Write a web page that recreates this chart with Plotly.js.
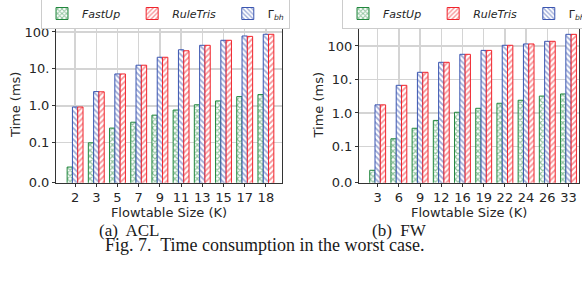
<!DOCTYPE html>
<html>
<head>
<meta charset="utf-8">
<script src="https://cdn.plot.ly/plotly-3.0.1.min.js"></script>
<style>html,body{margin:0;padding:0;background:#fff;overflow:hidden;}#chart{width:582px;height:281px;}</style>
</head>
<body>
<div id="chart"></div>
<script>
// ---- data ----
const aclSizes = ['2','3','5','7','9','11','13','15','17','18'];
const aclFastUp = [0.022, 0.10, 0.25, 0.36, 0.56, 0.77, 1.07, 1.36, 1.78, 2.02];
const aclRuleTris = [0.93, 2.4, 7.3, 12.6, 20.7, 31, 43.6, 59.6, 76, 86.6];
const aclGamma = [0.93, 2.43, 7.3, 12.6, 20.7, 33, 43.6, 59.6, 78, 86.6];

const fwSizes = ['3','6','9','12','16','19','22','24','26','33'];
const fwFastUp = [0.0195, 0.17, 0.35, 0.6, 1.05, 1.38, 1.95, 2.4, 3.2, 3.7];
const fwRuleTris = [1.75, 6.7, 16.4, 32.6, 56.5, 74, 105, 115, 138, 223];
const fwGamma = [1.75, 6.7, 16.4, 32.6, 56.5, 74, 105, 115, 138, 223];

const seriesNames = ['<i>FastUp</i>\u00a0\u00a0', '<i>RuleTris</i>\u00a0\u00a0', 'Γ<sub><i>bh</i></sub>'];
const yTickVals = [Math.pow(10, -2.081), 0.1, 1, 10, 100];
const yTickText = ['0.0', '0.1', '1.0', '10.', '100'];

// ---- styles ----
const GREEN = '#21873d', RED = '#f0242c', BLUE = '#3a55b0';
function bar(x, y, name, color, shape, rank, xa, ya, leg, sol) {
  return {
    type: 'bar', x: x, y: y, name: name, xaxis: xa, yaxis: ya, legend: leg,
    legendrank: rank,
    marker: {
      color: '#ffffff',
      line: {color: color, width: 1},
      pattern: {shape: shape, fgcolor: color, bgcolor: '#ffffff', size: 4, solidity: sol, fillmode: 'overlay'}
    },
    hoverinfo: 'skip'
  };
}

const data = [
  bar(aclSizes, aclFastUp, seriesNames[0], GREEN, 'x', 1, 'x', 'y', 'legend', 0.5),
  bar(aclSizes, aclGamma, seriesNames[2], BLUE, '\\', 3, 'x', 'y', 'legend', 0.45),
  bar(aclSizes, aclRuleTris, seriesNames[1], RED, '/', 2, 'x', 'y', 'legend', 0.45),
  bar(fwSizes, fwFastUp, seriesNames[0], GREEN, 'x', 1, 'x2', 'y2', 'legend2', 0.5),
  bar(fwSizes, fwGamma, seriesNames[2], BLUE, '\\', 3, 'x2', 'y2', 'legend2', 0.45),
  bar(fwSizes, fwRuleTris, seriesNames[1], RED, '/', 2, 'x2', 'y2', 'legend2', 0.45)
];

const tickFont = {family: 'DejaVu Sans', size: 13, color: '#262626'};
const gridC = '#d4d4d4';
function xAxis(domain, anchor, range) {
  return {
    type: 'category', domain: domain, anchor: anchor, range: range,
    automargin: false, tickangle: 0,
    showgrid: true, gridcolor: gridC, gridwidth: 1.3,
    showline: true, linecolor: '#333', linewidth: 1, mirror: true,
    ticks: 'outside', ticklen: 3, tickcolor: '#333', tickfont: tickFont,
    title: {text: 'Flowtable Size (K)', font: tickFont, standoff: 2},
    zeroline: false, fixedrange: true
  };
}
function yAxis(domain, anchor, range, standoff) {
  return {
    type: 'log', domain: domain, anchor: anchor, range: range,
    automargin: false,
    tickvals: yTickVals, ticktext: yTickText,
    showgrid: true, gridcolor: gridC, gridwidth: 1.3,
    showline: true, linecolor: '#333', linewidth: 1, mirror: true,
    ticks: 'outside', ticklen: 3, tickcolor: '#333', tickfont: tickFont,
    title: {text: 'Time (ms)', font: tickFont, standoff: standoff},
    zeroline: false, fixedrange: true
  };
}

const legendBase = {
  orientation: 'h', yanchor: 'top', y: 1 + 2/281, xanchor: 'left',
  bgcolor: '#ffffff', bordercolor: '#cccccc', borderwidth: 1,
  font: {family: 'DejaVu Sans', size: 11, color: '#262626'},
  traceorder: 'normal',
  itemclick: false, itemdoubleclick: false
};

const subCapFont = {family: 'Liberation Serif', size: 17, color: '#1a1a1a'};
const figCapFont = {family: 'Liberation Serif', size: 18, color: '#1a1a1a'};
const layout = {
  width: 582, height: 281,
  margin: {l: 0, r: 0, t: 0, b: 0, autoexpand: false},
  paper_bgcolor: '#ffffff', plot_bgcolor: '#ffffff',
  barmode: 'group', bargap: 0.25, bargroupgap: 0,
  showlegend: true,
  xaxis: xAxis([56/582, 282/582], 'y', [-0.9, 9.76]),
  yaxis: yAxis([1 - 182.7/281, 1 - 26/281], 'x', [-2.081, 2.162], 1),
  xaxis2: xAxis([359/582, 579.3/582], 'y2', [-0.88, 9.51]),
  yaxis2: yAxis([1 - 182.7/281, 1 - 26.7/281], 'x2', [-2.081, 2.576], 1),
  legend: Object.assign({}, legendBase, {x: 41/582}),
  legend2: Object.assign({}, legendBase, {x: 342/582}),
  annotations: [
    {text: '(a)\u00a0 ACL', x: 129/582, y: 1 - 230/281, xref: 'paper', yref: 'paper', xanchor: 'center', yanchor: 'middle', showarrow: false, font: subCapFont},
    {text: '(b)\u00a0 FW', x: 399/582, y: 1 - 230/281, xref: 'paper', yref: 'paper', xanchor: 'center', yanchor: 'middle', showarrow: false, font: subCapFont},
    {text: 'Fig. 7.\u00a0 Time consumption in the worst case.', x: 265/582, y: 1 - 245/281, xref: 'paper', yref: 'paper', xanchor: 'center', yanchor: 'middle', showarrow: false, font: figCapFont}
  ]
};

Plotly.newPlot('chart', data, layout, {displayModeBar: false, staticPlot: true});
</script>
</body>
</html>
